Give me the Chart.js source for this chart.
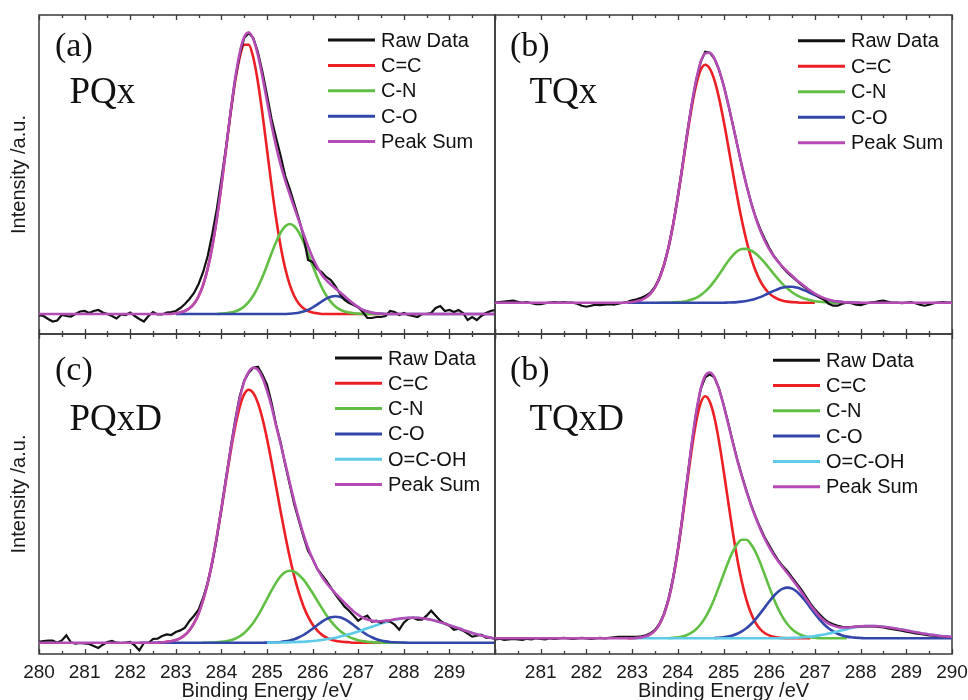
<!DOCTYPE html>
<html>
<head>
<meta charset="utf-8">
<title>C1s XPS fits</title>
<script src="https://cdn.jsdelivr.net/npm/chart.js@4.4.1/dist/chart.umd.min.js"></script>
<style>
  html, body { margin: 0; padding: 0; background: #fff; }
  #fig { position: relative; width: 968px; height: 700px; overflow: hidden; background: #fff; }
  #fig canvas { position: absolute; }
</style>
</head>
<body>
<div id="fig">
  <canvas id="cA" width="500" height="340" style="left:0;top:0"></canvas>
  <canvas id="cB" width="478" height="340" style="left:490px;top:0"></canvas>
  <canvas id="cC" width="500" height="380" style="left:0;top:320px"></canvas>
  <canvas id="cD" width="478" height="380" style="left:490px;top:320px"></canvas>
</div>
<script>
// ---- axis ticks (binding energy, eV) ----
const majorTicks = [280, 281, 282, 283, 284, 285, 286, 287, 288, 289, 290];
const minorTicks = [280.5, 281.5, 282.5, 283.5, 284.5, 285.5, 286.5, 287.5, 288.5, 289.5];
const tickLabelsLeft = ['280', '281', '282', '283', '284', '285', '286', '287', '288', '289', ''];
const tickLabelsRight = ['', '281', '282', '283', '284', '285', '286', '287', '288', '289', '290'];

// every series is sampled every 0.1 eV from its start energy
const energyStep = 0.1;

// ---- (a) PQx ----
const pqxRawStart = 280.0;
const pqxRaw = [
  -1, -2, -5, -7.5, -6.5, -1, -2, -2.5, 0, 2.5,
  3, 1, 3, 4, 1.5, 0, -2, -4.5, -0.5, -1,
  1.5, -2, -5, -7.5, -2, 2, -0.5, -0.5, 1.5, 2,
  3, 6, 10, 15, 21, 30, 42, 58, 80, 105,
  135, 166, 201, 234, 259, 276, 281, 276, 262, 242,
  219, 195, 176, 158, 138, 125, 110, 95, 78, 54,
  52, 45, 42, 37, 34, 28, 20, 14, 11, 9,
  7, 2, -4, -4, -3, -3, -2, 3, 2, -1,
  1, -1, -2, -3, 0, 0, 1, 6, 8, 3,
  4, 2, 4, 1, -6, -3, -6, -2, 1, 3,
  4
];
const pqxCCStart = 283.0;
const pqxCC = [
  0.7, 1.5, 3.0, 5.7, 10.3, 17.8, 29.2, 45.5, 67.6, 95.5,
  128.4, 164.4, 200.3, 232.3, 256.3, 269.3, 269.3, 256.3, 232.3, 200.3,
  164.4, 128.4, 95.5, 67.6, 45.5, 29.2, 17.8, 10.3, 5.7, 3.0,
  1.5, 0.7, 0, 0, 0, 0, 0, 0, 0, 0,
  0, 0, 0, 0, 0, 0
];
const pqxCNStart = 283.9;
const pqxCN = [
  0,
  0.35, 0.7, 1.4, 2.6, 4.5, 7.6, 12.2, 18.5, 26.8, 37.0,
  48.5, 60.7, 72.1, 81.5, 87.8, 90, 87.8, 81.5, 72.1, 60.7,
  48.5, 37.0, 26.8, 18.5, 12.2, 7.6, 4.5, 2.6, 1.4, 0.7,
  0.35, 0, 0, 0, 0, 0, 0
];
const pqxCOStart = 283.0;
const pqxCO = [
  0, 0, 0, 0, 0, 0, 0, 0, 0, 0,
  0, 0, 0, 0, 0, 0, 0, 0, 0, 0,
  0, 0, 0, 0, 0, 0.3, 0.7, 1.3, 2.4, 4.1,
  6.5, 9.4, 12.5, 15.3, 17.3, 18, 17.3, 15.3, 12.5, 9.4,
  6.5, 4.1, 2.4, 1.3, 0.7, 0.3, 0, 0, 0, 0,
  0, 0, 0, 0, 0, 0, 0, 0, 0, 0,
  0, 0, 0, 0, 0, 0, 0, 0, 0, 0,
  0
];
const pqxSumStart = 280.0;
const pqxSum = [
  0, 0, 0, 0, 0, 0, 0, 0, 0, 0,
  0, 0, 0, 0, 0, 0, 0, 0, 0, 0,
  0, 0, 0, 0, 0, 0, 0, 0, 0, 0,
  0.7, 1.5, 3.0, 5.7, 10.3, 17.8, 29.2, 45.5, 67.6, 95.5,
  128.8, 165.1, 201.7, 234.9, 260.8, 276.9, 281.5, 274.8, 259.1, 237.3,
  212.9, 189.1, 167.6, 149.1, 133.3, 119.5, 106.3, 93.1, 80.2, 67.8,
  56.5, 47.1, 39.3, 33.8, 29.5, 25.6, 21.8, 17.9, 13.9, 10.1,
  6.9, 4.1, 2.4, 1.3, 0.7, 0.3, 0, 0, 0, 0,
  0, 0, 0, 0, 0, 0, 0, 0, 0, 0,
  0, 0, 0, 0, 0, 0, 0, 0, 0, 0,
  0
];

// ---- (b) TQx ----
const tqxRawStart = 280.0;
const tqxRaw = [
  0, 0.5, 1, 1.5, 2, 1, 0, 0.5, -0.5, -1.5,
  -1.5, -0.5, 0, 0.5, 0, 0.5, 0, 0, -1, -3,
  -4, -3, -2, -2.5, -2, -1.5, -2, -1, 0, 1,
  2.5, 3.5, 5, 7, 10, 16, 25, 38, 56, 79,
  106, 136, 168, 197, 222, 241, 251, 250, 244, 233,
  218, 199, 179, 158, 137, 118, 101, 86, 74, 64,
  55, 47, 41, 35, 30, 26, 22, 18, 14.5, 11.5,
  8.5, 5.5, 3, -1, -3, -3, -1, 0, -0.5, -2,
  -2.5, -1, 0, 0.5, 1.5, 2, 1, 0, 0, -0.5,
  0, 0.5, -0.5, -2, -3, -2, -0.5, 0, 0.5, 0,
  0
];
const tqxCCStart = 282.9;
const tqxCC = [
  0.3,
  0.7, 1.5, 2.8, 5.2, 9.1, 15.4, 24.7, 38.0, 55.9, 78.5,
  105.3, 135.1, 165.7, 194.2, 217.4, 232.7, 238, 234.1, 222.8, 205.1,
  182.7, 157.5, 131.3, 105.9, 82.6, 62.4, 45.6, 32.2, 22.0, 14.6,
  9.3, 5.8, 3.5, 2.0, 1.1, 0.6, 0.3, 0, 0, 0,
  0
];
const tqxCNStart = 283.6;
const tqxCN = [
  0, 0, 0, 0.3,
  0.6, 1.0, 1.8, 3.1, 4.9, 7.6, 11.3, 15.9, 21.6, 28.0,
  34.8, 41.4, 47.1, 51.4, 53.7, 53.8, 52.2, 49.2, 45.0, 40.0,
  34.5, 28.8, 23.4, 18.4, 14.1, 10.5, 7.6, 5.3, 3.6, 2.4,
  1.5, 0.9, 0.6, 0.3, 0, 0, 0
];
const tqxCOStart = 282.9;
const tqxCO = [
  0,
  0, 0, 0, 0, 0, 0, 0, 0, 0, 0,
  0, 0, 0, 0, 0, 0, 0, 0, 0, 0,
  0, 0.2, 0.3, 0.6, 1.1, 1.7, 2.7, 4.0, 5.6, 7.6,
  9.7, 11.8, 13.7, 15.1, 15.9, 15.9, 15.1, 13.7, 11.8, 9.7,
  7.6, 5.6, 4.0, 2.7, 1.7, 1.1, 0.6, 0.3, 0.2, 0,
  0
];
const tqxSumStart = 280.0;
const tqxSum = [
  0, 0, 0, 0, 0, 0, 0, 0, 0, 0,
  0, 0, 0, 0, 0, 0, 0, 0, 0, 0,
  0, 0, 0, 0, 0, 0, 0, 0, 0, 0.3,
  0.7, 1.5, 2.8, 5.2, 9.1, 15.4, 24.7, 38.0, 55.9, 78.8,
  105.9, 136.1, 167.5, 197.3, 222.3, 240.3, 249.3, 250.0, 244.4, 233.1,
  217.5, 199.1, 178.7, 157.9, 137.4, 117.9, 100.5, 85.4, 72.6, 62.2,
  53.5, 46.4, 40.6, 35.5, 31.1, 27.0, 22.7, 19.0, 15.4, 12.1,
  9.1, 6.5, 4.6, 3.0, 1.7, 1.1, 0.6, 0.3, 0.2, 0,
  0, 0, 0, 0, 0, 0, 0, 0, 0, 0,
  0, 0, 0, 0, 0, 0, 0, 0, 0, 0,
  0
];

// ---- (c) PQxD ----
const pqxdRawStart = 280.0;
const pqxdRaw = [
  0.7, 1.7, 2, 2, 0, 2.3, 7.3, 0.3, -1, -0.3,
  -0.7, -1.3, -3.3, -5.3, -2, 0.7, 1.7, 0, -0.3, 0,
  0.7, -2.7, -7.7, -0.3, -0.3, 3.7, 4, 6.7, 8.3, 7.7,
  10.7, 12.3, 15, 21.7, 27, 33, 45, 60, 80, 105,
  134, 164, 194, 222, 246, 262, 270, 275, 276, 268,
  258, 240, 218, 200, 178, 158, 138, 122, 106, 92,
  84, 74, 68, 62, 55, 48, 42, 36, 32, 27,
  22, 25, 27, 21, 22, 20, 22, 21, 18, 13,
  20, 24, 25, 23, 23, 27, 32, 27, 22, 19,
  17, 13, 14, 12, 9, 6, 7, 8, 5, 5,
  4
];
const pqxdCCStart = 282.6;
const pqxdCC = [
  0, 0.4, 0.8, 1.5,
  2.7, 4.6, 7.7, 12.5, 19.5, 29.3, 42.7, 59.8, 81.0, 105.8,
  133.3, 162.1, 190.3, 215.5, 235.6, 248.5, 253, 249.6, 239.8, 224.2,
  204.0, 180.8, 156.0, 131.0, 107.1, 85.2, 66.0, 49.8, 36.5, 26.1,
  18.2, 12.3, 8.1, 5.2, 3.3, 2.0, 1.2, 0.7, 0.4, 0,
  0, 0, 0, 0, 0, 0
];
const pqxdCNStart = 283.6;
const pqxdCN = [
  0, 0, 0.2, 0.4,
  0.8, 1.4, 2.4, 4.0, 6.4, 9.7, 14.3, 20.0, 27.0, 35.1,
  43.7, 52.3, 60.1, 66.5, 70.6, 72, 70.9, 67.8, 63.0, 56.8,
  49.7, 42.2, 34.8, 27.8, 21.6, 16.3, 11.9, 8.5, 5.8, 3.9,
  2.5, 1.6, 1.0, 0.6, 0.3, 0.2, 0, 0, 0, 0,
  0
];
const pqxdCOStart = 282.2;
const pqxdCO = [
  0, 0, 0, 0, 0, 0, 0, 0,
  0, 0, 0, 0, 0, 0, 0, 0, 0, 0,
  0, 0, 0, 0, 0, 0, 0, 0, 0, 0,
  0.1, 0.2, 0.4, 0.7, 1.3, 2.2, 3.5, 5.4, 7.7, 10.7,
  14.0, 17.5, 20.8, 23.6, 25.4, 26, 25.4, 23.6, 20.8, 17.5,
  14.0, 10.7, 7.7, 5.4, 3.5, 2.2, 1.3, 0.7, 0.4, 0.2,
  0.1, 0, 0, 0, 0, 0, 0, 0, 0, 0,
  0, 0, 0, 0, 0, 0, 0, 0, 0, 0,
  0
];
const pqxdOCOHStart = 285.0;
const pqxdOCOH = [
  0, 0.1, 0.2, 0.2, 0.3, 0.4, 0.6, 0.8, 1.0, 1.3,
  1.7, 2.2, 2.7, 3.4, 4.2, 5.0, 6.1, 7.2, 8.4, 9.8,
  11.3, 12.8, 14.4, 16.0, 17.5, 19.1, 20.5, 21.8, 22.9, 23.8,
  24.5, 24.9, 25, 24.9, 24.5, 23.8, 22.9, 21.8, 20.5, 19.1,
  17.5, 16.0, 14.4, 12.8, 11.3, 9.8, 8.4, 7.2, 6.1, 5.0,
  4.2
];
const pqxdSumStart = 280.0;
const pqxdSum = [
  0, 0, 0, 0, 0, 0, 0, 0, 0, 0,
  0, 0, 0, 0, 0, 0, 0, 0, 0, 0,
  0, 0, 0, 0, 0, 0, 0, 0.4, 0.8, 1.5,
  2.7, 4.6, 7.7, 12.5, 19.5, 29.3, 42.7, 59.8, 81.2, 106.2,
  134.1, 163.5, 192.7, 219.5, 244, 261, 271, 275, 273, 265,
  252, 236, 216.7, 198.4, 179.3, 159.8, 141.0, 123.8, 108.2, 94.9,
  83.6, 74.2, 66.4, 60.0, 54.5, 49.3, 44.6, 40.0, 35.4, 31.2,
  27.8, 25.1, 23.1, 22.0, 21.3, 21.5, 21.8, 22.5, 23.3, 24.0,
  24.6, 24.9, 25, 24.9, 24.5, 23.8, 22.9, 21.8, 20.5, 19.1,
  17.5, 16.0, 14.4, 12.8, 11.3, 9.8, 8.4, 7.2, 6.1, 5.0,
  4.2
];

// ---- (d) TQxD ----
const tqxdRawStart = 280.0;
const tqxdRaw = [
  -1, -0.5, -1.5, -1, -0.5, -1, -1.5, -0.5, -1, 0,
  -0.5, -1, 0, -0.5, 0, 0.5, 0, -0.5, 0, 0.5,
  0, -0.5, 0, 0.5, 0, 0.5, 1, 1.5, 1.5, 1.5,
  1.5, 1.5, 2, 3, 5, 8.5, 14.5, 24.5, 39.5, 61,
  88, 121, 157, 193, 225, 249, 261, 264, 261, 250,
  234, 216, 197, 179, 163, 148, 134, 122, 111, 101,
  93, 85, 78, 72, 67, 61, 55, 49, 42, 35,
  29, 24, 19.5, 16, 14, 12.5, 11.5, 11.2, 11.3, 11.6,
  11.8, 12, 12, 11.8, 11.4, 10.8, 10, 9.2, 8.5, 7.6,
  6.7, 5.9, 5, 4.3, 3.6, 3, 2.6, 2.2, 1.8, 1.5,
  1.2
];
const tqxdCCStart = 282.9;
const tqxdCC = [
  0,
  0, 0.4, 0.9, 2.0, 4.1, 7.8, 14.2, 24.4, 39.4, 60.4,
  87.2, 119.1, 153.8, 187.5, 216.1, 235.2, 242, 236.6, 221.1, 197.4,
  168.5, 137.4, 107.1, 79.8, 56.8, 38.7, 25.2, 15.6, 9.3, 5.3,
  2.9, 1.5, 0.7, 0.3, 0, 0, 0, 0, 0, 0
];
const tqxdCNStart = 283.8;
const tqxdCN = [
  0, 0.5,
  1.0, 1.9, 3.3, 5.6, 9.0, 14.0, 20.6, 29.2, 39.6, 51.4,
  63.8, 75.9, 86.4, 94.2, 98.5, 98.5, 94.2, 86.4, 75.9, 63.8,
  51.4, 39.6, 29.2, 20.6, 14.0, 9.0, 5.6, 3.3, 1.9, 1.0,
  0.5, 0, 0, 0, 0, 0, 0, 0
];
const tqxdCOStart = 284.8;
const tqxdCO = [
  0.3, 0.6,
  1.0, 1.7, 2.8, 4.5, 6.9, 10.0, 14.1, 19.0, 24.7, 30.7,
  36.8, 42.3, 46.8, 49.7, 50.7, 49.7, 46.8, 42.3, 36.8, 30.7,
  24.7, 19.0, 14.1, 10.0, 6.9, 4.5, 2.8, 1.7, 1.0, 0.6,
  0.3, 0, 0, 0, 0, 0, 0, 0, 0, 0,
  0, 0, 0, 0, 0, 0, 0, 0, 0, 0,
  0
];
const tqxdOCOHStart = 283.0;
const tqxdOCOH = [
  0, 0, 0, 0, 0, 0, 0, 0, 0, 0,
  0, 0, 0, 0, 0, 0, 0, 0, 0, 0,
  0, 0, 0, 0, 0, 0, 0, 0, 0, 0,
  0, 0, 0.1, 0.2, 0.3, 0.4, 0.6, 0.9, 1.2, 1.7,
  2.2, 2.9, 3.8, 4.7, 5.8, 6.9, 8.0, 9.1, 10.2, 11.1,
  11.7, 12.2, 12.3, 12.2, 12.0, 11.6, 11.0, 10.3, 9.6, 8.8,
  7.9, 7.0, 6.2, 5.3, 4.5, 3.8, 3.2, 2.6, 2.1, 1.7,
  1.3
];
const tqxdSumStart = 280.0;
const tqxdSum = [
  0, 0, 0, 0, 0, 0, 0, 0, 0, 0,
  0, 0, 0, 0, 0, 0, 0, 0, 0, 0,
  0, 0, 0, 0, 0, 0, 0, 0, 0, 0,
  0, 0.4, 0.9, 2.0, 4.1, 7.8, 14.2, 24.4, 39.4, 60.9,
  88.2, 121.0, 157.1, 193.1, 225.1, 249.2, 262.6, 265.8, 261.0, 249.4,
  233.3, 215.0, 196.3, 178.5, 162.2, 147.2, 133.5, 121.0, 109.9, 99.8,
  91.1, 83.4, 76.8, 70.8, 65.0, 59.1, 53.0, 46.5, 39.9, 33.4,
  27.4, 21.9, 17.9, 14.7, 12.7, 11.4, 10.8, 10.8, 11.2, 11.7,
  12.0, 12.2, 12.3, 12.2, 12.0, 11.6, 11.0, 10.3, 9.6, 8.8,
  7.9, 7.0, 6.2, 5.3, 4.5, 3.8, 3.2, 2.6, 2.1, 1.7,
  1.3
];

// ---- styles ----
const COLORS = {
  raw: '#111111',
  cc: '#ec1f24',
  cn: '#62bf45',
  co: '#3347ab',
  ocoh: '#5dcbe8',
  sum: '#b54bb5'
};
const FRAME = '#3a3a3a';
const SANS = '"Liberation Sans", Arial, sans-serif';
const SERIF = '"Liberation Serif", "Times New Roman", serif';

function toPoints(start, values) {
  return values.map((y, i) => ({ x: Math.round((start + i * energyStep) * 10) / 10, y }));
}

// series listed in legend order; "order" = draw order (0 on top)
function seriesList(raw, cc, cn, co, ocoh, sum) {
  const list = [
    { label: 'Raw Data', color: COLORS.raw, data: raw, order: 1, smooth: false },
    { label: 'C=C', color: COLORS.cc, data: cc, order: 5, smooth: true },
    { label: 'C-N', color: COLORS.cn, data: cn, order: 4, smooth: true },
    { label: 'C-O', color: COLORS.co, data: co, order: 3, smooth: true }
  ];
  if (ocoh) list.push({ label: 'O=C-OH', color: COLORS.ocoh, data: ocoh, order: 2, smooth: true });
  list.push({ label: 'Peak Sum', color: COLORS.sum, data: sum, order: 0, smooth: true });
  return list;
}

const panels = [
  {
    canvas: 'cA', tag: '(a)', name: 'PQx', yRange: [-20, 299], left: true, bottom: false,
    padding: { left: 0, top: 15, right: 5, bottom: 6 },
    legend: { x: 289, y: 25, gap: 25.4 },
    tagPos: { x: 16, y: 41, nx: 30.5, ny: 88 },
    series: seriesList(
      toPoints(pqxRawStart, pqxRaw), toPoints(pqxCCStart, pqxCC), toPoints(pqxCNStart, pqxCN),
      toPoints(pqxCOStart, pqxCO), null, toPoints(pqxSumStart, pqxSum))
  },
  {
    canvas: 'cB', tag: '(b)', name: 'TQx', yRange: [-31.3, 287.7], left: false, bottom: false,
    padding: { left: 5, top: 15, right: 16, bottom: 6 },
    legend: { x: 303, y: 25.7, gap: 25.5 },
    tagPos: { x: 15, y: 41, nx: 34.4, ny: 88 },
    series: seriesList(
      toPoints(tqxRawStart, tqxRaw), toPoints(tqxCCStart, tqxCC), toPoints(tqxCNStart, tqxCN),
      toPoints(tqxCOStart, tqxCO), null, toPoints(tqxSumStart, tqxSum))
  },
  {
    canvas: 'cC', tag: '(c)', name: 'PQxD', yRange: [-11.3, 308.7], left: true, bottom: true,
    padding: { left: 0, top: 14, right: 5, bottom: 0 },
    legend: { x: 296, y: 24, gap: 25.3 },
    tagPos: { x: 16, y: 46, nx: 30.5, ny: 96 },
    series: seriesList(
      toPoints(pqxdRawStart, pqxdRaw), toPoints(pqxdCCStart, pqxdCC), toPoints(pqxdCNStart, pqxdCN),
      toPoints(pqxdCOStart, pqxdCO), toPoints(pqxdOCOHStart, pqxdOCOH), toPoints(pqxdSumStart, pqxdSum))
  },
  {
    canvas: 'cD', tag: '(b)', name: 'TQxD', yRange: [-15.7, 304.3], left: false, bottom: true,
    padding: { left: 5, top: 14, right: 16, bottom: 0 },
    legend: { x: 278, y: 26.2, gap: 25.3 },
    tagPos: { x: 15, y: 46, nx: 34.4, ny: 96 },
    series: seriesList(
      toPoints(tqxdRawStart, tqxdRaw), toPoints(tqxdCCStart, tqxdCC), toPoints(tqxdCNStart, tqxdCN),
      toPoints(tqxdCOStart, tqxdCO), toPoints(tqxdOCOHStart, tqxdOCOH), toPoints(tqxdSumStart, tqxdSum))
  }
];

// frame, inward ticks, legend and panel tags
function decorPlugin(p) {
  return {
    id: 'decor',
    beforeDatasetsDraw(chart) {
      const { ctx, chartArea: a } = chart;
      const xs = chart.scales.x;
      ctx.save();
      ctx.strokeStyle = FRAME;
      ctx.lineWidth = 1.5;
      ctx.strokeRect(a.left, a.top, a.right - a.left, a.bottom - a.top);
      ctx.lineWidth = 1.3;
      ctx.beginPath();
      const mark = (v, len) => {
        const px = Math.round(xs.getPixelForValue(v)) + 0.5;
        ctx.moveTo(px, a.top); ctx.lineTo(px, a.top + len);
        ctx.moveTo(px, a.bottom); ctx.lineTo(px, a.bottom - len);
      };
      majorTicks.forEach(v => mark(v, 5));
      minorTicks.forEach(v => mark(v, 3));
      ctx.stroke();
      ctx.restore();
    },
    afterDatasetsDraw(chart) {
      const { ctx, chartArea: a } = chart;
      const L = p.legend;
      ctx.save();
      ctx.font = '20px ' + SANS;
      ctx.textBaseline = 'middle';
      ctx.textAlign = 'left';
      p.series.forEach((s, i) => {
        const y = a.top + L.y + i * L.gap;
        ctx.strokeStyle = s.color;
        ctx.lineWidth = 3;
        ctx.beginPath();
        ctx.moveTo(a.left + L.x, y);
        ctx.lineTo(a.left + L.x + 47, y);
        ctx.stroke();
        ctx.fillStyle = '#111';
        ctx.fillText(s.label, a.left + L.x + 53, y + 1);
      });
      ctx.textBaseline = 'alphabetic';
      ctx.fillStyle = '#111';
      ctx.font = '34px ' + SERIF;
      ctx.fillText(p.tag, a.left + p.tagPos.x, a.top + p.tagPos.y);
      ctx.font = '37px ' + SERIF;
      ctx.fillText(p.name, a.left + p.tagPos.nx, a.top + p.tagPos.ny);
      ctx.restore();
    }
  };
}

function makeChart(p) {
  const labels = p.left ? tickLabelsLeft : tickLabelsRight;
  const datasets = p.series.map(s => ({
    label: s.label,
    data: s.data,
    borderColor: s.color,
    backgroundColor: s.color,
    borderWidth: s.smooth ? 2.6 : 2.2,
    pointRadius: 0,
    fill: false,
    tension: s.smooth ? 0.4 : 0,
    cubicInterpolationMode: s.smooth ? 'monotone' : 'default',
    order: s.order
  }));

  const xScale = {
    type: 'linear',
    min: 280,
    max: 290,
    display: p.bottom,
    grid: { display: false, drawTicks: false },
    border: { display: false },
    ticks: {
      stepSize: 1,
      autoSkip: false,
      maxRotation: 0,
      padding: 7,
      color: '#1a1a1a',
      font: { family: SANS, size: 19 },
      callback: (v, i) => labels[i]
    },
    title: {
      display: p.bottom,
      text: 'Binding Energy /eV',
      color: '#1a1a1a',
      font: { family: SANS, size: 20, lineHeight: 0.9 },
      padding: { top: 0, bottom: 0 }
    },
    afterFit: s => {
      if (!p.bottom) return;
      s.height = 46; s.paddingLeft = 0; s.paddingRight = 0;
    }
  };

  const yScale = {
    type: 'linear',
    min: p.yRange[0],
    max: p.yRange[1],
    display: p.left,
    grid: { display: false, drawTicks: false },
    border: { display: false },
    ticks: { display: false },
    title: {
      display: p.left,
      text: 'Intensity /a.u.',
      color: '#1a1a1a',
      font: { family: SANS, size: 20, lineHeight: 1.2 },
      padding: { top: 7.5, bottom: 0 }
    },
    afterFit: s => {
      if (!p.left) return;
      s.width = 39; s.paddingTop = 0; s.paddingBottom = 0;
    }
  };

  return new Chart(document.getElementById(p.canvas), {
    type: 'line',
    data: { datasets },
    options: {
      responsive: false,
      animation: false,
      devicePixelRatio: 1,
      layout: { padding: p.padding, autoPadding: false },
      scales: { x: xScale, y: yScale },
      plugins: { legend: { display: false }, tooltip: { enabled: false } },
      events: []
    },
    plugins: [decorPlugin(p)]
  });
}

panels.forEach(makeChart);
</script>
</body>
</html>
